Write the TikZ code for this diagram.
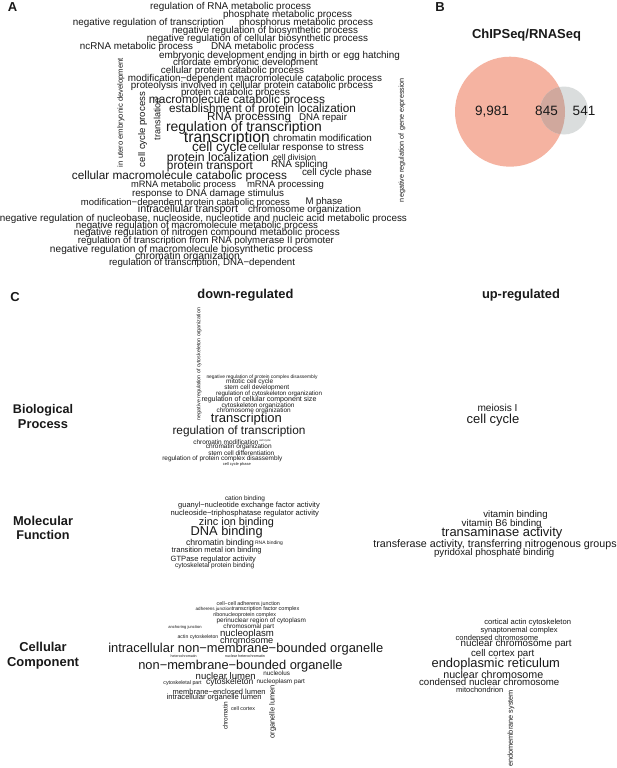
\documentclass[tikz,border=0pt]{standalone}
\usepackage{fontspec}
\setmainfont{Liberation Sans}
\usepackage{graphicx}
\definecolor{salmon}{RGB}{245,179,161}
\definecolor{greyc}{RGB}{218,221,221}
\definecolor{overlapc}{RGB}{208,168,157}
\definecolor{ink}{RGB}{25,25,25}
\newcounter{wcn}
\tikzset{
  wtxt/.style={inner sep=0pt, outer sep=0pt, text=ink, anchor=center},
  lab/.style={inner sep=0pt, outer sep=0pt, text=ink, font=\fontsize{13}{13}\selectfont\bfseries},
  num/.style={inner sep=0pt, outer sep=0pt, text=ink, anchor=base, font=\fontsize{13.5}{13.5}\selectfont}
}
\newcommand\wc[4]{\stepcounter{wcn}\node[wtxt] (w\arabic{wcn}) at (#1,#2) {\resizebox{#3pt}{!}{\vphantom{Ag}#4}};}
\newcommand\wv[4]{\stepcounter{wcn}\node[wtxt,rotate=90] (w\arabic{wcn}) at (#1,#2) {\resizebox{#3pt}{!}{\vphantom{Ag}#4}};}
\newcommand\wb[4]{\stepcounter{wcn}\node[wtxt] (w\arabic{wcn}) at (#1,#2) {\resizebox{#3pt}{!}{\bfseries\vphantom{Ag}#4}};}
\begin{document}
\begin{tikzpicture}[x=1pt,y=-1pt]
\useasboundingbox[fill=white] (0,0) rectangle (617,768);
% panel labels
\node[lab] (LA) at (12.5,7.5) {A};
\node[lab] (LB) at (440,7.5) {B};
\node[lab] (LC) at (15,297.5) {C};
% ---------- Panel A ----------
\wc{230.5}{7}{161}{regulation of RNA metabolic process}
\wc{287.5}{14.7}{129}{phosphate metabolic process}
\wc{148.5}{23.3}{151}{negative regulation of transcription}
\wc{306}{23.3}{134}{phosphorus metabolic process}
\wc{265}{30.7}{186}{negative regulation of biosynthetic process}
\wc{257.5}{39}{221}{negative regulation of cellular biosynthetic process}
\wc{136.5}{46.5}{113}{ncRNA metabolic process}
\wc{262.5}{47}{103}{DNA metabolic process}
\wc{279.5}{56}{241}{embryonic development ending in birth or egg hatching}
\wc{245.5}{62.7}{145}{chordate embryonic development}
\wc{232.5}{70.7}{143}{cellular protein catabolic process}
\wc{255}{78.7}{254}{modification−dependent macromolecule catabolic process}
\wc{252}{86}{242}{proteolysis involved in cellular protein catabolic process}
\wc{235.5}{92.5}{109}{protein catabolic process}
\wc{237}{100}{176}{macromolecule catabolic process}
\wc{262.5}{109.3}{187}{establishment of protein localization}
\wc{249}{117.7}{84}{RNA processing}
\wc{323}{117.5}{48}{DNA repair}
\wc{244}{127.7}{156}{regulation of transcription}
\wc{227}{138.3}{86}{transcription}
\wc{322.5}{138.5}{99}{chromatin modification}
\wc{219.5}{148.3}{55}{cell cycle}
\wc{306}{148}{116}{cellular response to stress}
\wc{218}{158.3}{102}{protein localization}
\wc{294.5}{158.5}{43}{cell division}
\wc{299.5}{165.3}{57}{RNA splicing}
\wc{210}{166.7}{86}{protein transport}
\wc{337}{173}{70}{cell cycle phase}
\wc{179.5}{176}{215}{cellular macromolecule catabolic process}
\wc{183.5}{185}{105}{mRNA metabolic process}
\wc{285.5}{185}{77}{mRNA processing}
\wc{208}{194.3}{152}{response to DNA damage stimulus}
\wc{185.5}{202.7}{209}{modification−dependent protein catabolic process}
\wc{324}{202.5}{37}{M phase}
\wc{188}{209.5}{100}{intracellular transport}
\wc{304.5}{209.5}{113}{chromosome organization}
\wc{203.5}{219}{407}{negative regulation of nucleobase, nucleoside, nucleotide and nucleic acid metabolic process}
\wc{197}{226}{242}{negative regulation of macromolecule metabolic process}
\wc{207}{233.3}{266}{negative regulation of nitrogen compound metabolic process}
\wc{206}{241}{256}{regulation of transcription from RNA polymerase II promoter}
\wc{181.5}{250}{263}{negative regulation of macromolecule biosynthetic process}
\wc{187.5}{257.3}{105}{chromatin organization}
\wc{202}{263.3}{186}{regulation of transcription, DNA−dependent}
\wv{121}{112.5}{109}{in utero embryonic development}
\wv{142.7}{129.5}{75}{cell cycle process}
\wv{158}{119}{42}{translation}
\wv{402}{140}{124}{negative regulation of gene expression}
% ---------- Panel B ----------
\wb{526.5}{35}{109}{ChIPSeq/RNASeq}
\fill[salmon] (510,111.7) circle[radius=55pt];
\fill[greyc] (564,110.5) circle[radius=24pt];
\begin{scope}
\clip (510,111.7) circle[radius=55pt];
\fill[overlapc] (564,110.5) circle[radius=24pt];
\end{scope}
\node[num] (n1) at (492,115.8) {9,981};
\node[num] (n2) at (546.5,115.8) {845};
\node[num] (n3) at (584,115.8) {541};
% ---------- Panel C headers ----------
\wb{245.5}{295.5}{96}{down-regulated}
\wb{521}{295.5}{78}{up-regulated}
\wb{43}{410}{60}{Biological}
\wb{43}{425.7}{50}{Process}
\wb{43}{521.7}{60}{Molecular}
\wb{43}{536.7}{53.3}{Function}
\wb{43}{648}{47.3}{Cellular}
\wb{43}{663}{72}{Component}
% BP down
\wv{199}{364}{112}{negative regulation of cytoskeleton organization}
\wc{262}{377}{111}{negative regulation of protein complex disassembly}
\wc{249.7}{381.7}{47}{mitotic cell cycle}
\wc{256.8}{387.7}{65}{stem cell development}
\wc{269}{393.7}{106}{regulation of cytoskeleton organization}
\wc{259}{400}{115}{regulation of cellular component size}
\wc{258}{406}{73}{cytoskeleton organization}
\wc{253.7}{411}{74}{chromosome organization}
\wc{246.5}{419.3}{71}{transcription}
\wc{239}{431.7}{133}{regulation of transcription}
\wc{225.8}{442.7}{65}{chromatin modification}
\wc{265}{440.3}{11.4}{cell cycle}
\wc{238.8}{446.7}{65.7}{chromatin organization}
\wc{241.3}{453.7}{66}{stem cell differentiation}
\wc{222.3}{459.3}{120}{regulation of protein complex disassembly}
\wc{236.8}{464.3}{28}{cell cycle phase}
% BP up
\wc{497.5}{409}{40}{meiosis I}
\wc{493}{420}{52.7}{cell cycle}
% MF down
\wc{245}{499}{40}{cation binding}
\wc{249}{505.7}{141.7}{guanyl−nucleotide exchange factor activity}
\wc{244.8}{513.3}{148.3}{nucleoside−triphosphatase regulator activity}
\wc{236.5}{522.3}{75}{zinc ion binding}
\wc{226.7}{532.3}{72}{DNA binding}
\wc{220}{543}{68}{chromatin binding}
\wc{269}{543}{27.7}{RNA binding}
\wc{216.7}{551}{90}{transition metal ion binding}
\wc{213.3}{559.3}{85.3}{GTPase regulator activity}
\wc{214.7}{565.7}{79.3}{cytoskeletal protein binding}
% MF up
\wc{515.5}{515}{64.3}{vitamin binding}
\wc{501.7}{523.7}{80}{vitamin B6 binding}
\wc{502}{533.3}{120.7}{transaminase activity}
\wc{495}{544.3}{243.3}{transferase activity, transferring nitrogenous groups}
\wc{494.2}{552.7}{120.3}{pyridoxal phosphate binding}
% CC down
\wc{248.3}{604}{63.3}{cell−cell adherens junction}
\wc{213.7}{609}{36}{adherens junction}
\wc{265.5}{609}{67.7}{transcription factor complex}
\wc{244.7}{614.7}{62.7}{ribonucleoprotein complex}
\wc{261.3}{621}{89.3}{perinuclear region of cytoplasm}
\wc{185}{627.7}{33.3}{anchoring junction}
\wc{248.7}{627.3}{50.7}{chromosomal part}
\wc{198}{636.7}{40.7}{actin cytoskeleton}
\wc{247}{634.3}{54}{nucleoplasm}
\wc{246.7}{641}{53.3}{chromosome}
\wc{245.8}{648.7}{275}{intracellular non−membrane−bounded organelle}
\wc{183.7}{656.7}{26}{heterochromatin}
\wc{245}{656.7}{40}{nuclear heterochromatin}
\wc{240.5}{666}{204.3}{non−membrane−bounded organelle}
\wc{225.7}{677}{60}{nuclear lumen}
\wc{276.7}{674}{26.7}{nucleolus}
\wc{182.5}{683.3}{38.3}{cytoskeletal part}
\wc{229.7}{682.7}{47.3}{cytoskeleton}
\wc{280.8}{681.7}{48.3}{nucleoplasm part}
\wc{219.2}{692.7}{93}{membrane−enclosed lumen}
\wc{214.2}{697.7}{95}{intracellular organelle lumen}
\wv{226}{715.8}{28.3}{chromatin}
\wc{243}{709}{24}{cell cortex}
\wv{272.7}{711.7}{53.3}{organelle lumen}
% CC up
\wc{527.7}{622.7}{86.7}{cortical actin cytoskeleton}
\wc{519.2}{630.7}{77}{synaptonemal complex}
\wc{497}{638.3}{82.7}{condensed chromosome}
\wc{516.2}{644.3}{111}{nuclear chromosome part}
\wc{502.7}{654}{63.3}{cell cortex part}
\wc{495.8}{664.3}{128.3}{endoplasmic reticulum}
\wc{493.3}{675.7}{100}{nuclear chromosome}
\wc{489.2}{683.3}{140.3}{condensed nuclear chromosome}
\wc{479.7}{691}{47.3}{mitochondrion}
\wv{511}{728.3}{76.7}{endomembrane system}
\end{tikzpicture}
\end{document}
